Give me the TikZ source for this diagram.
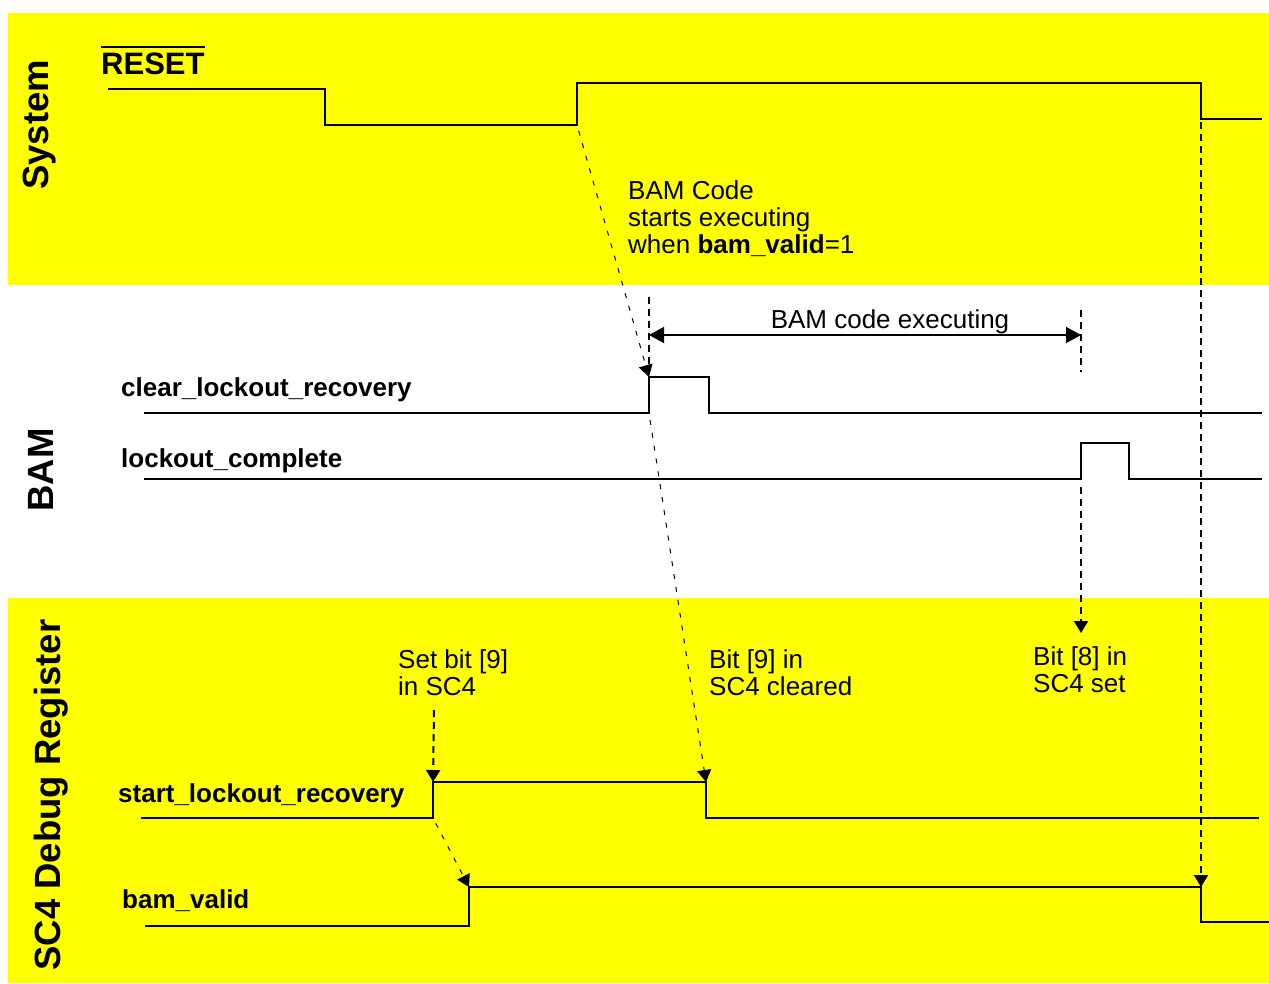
\documentclass[tikz,border=0pt]{standalone}
\usepackage{fontspec}
\setmainfont{Liberation Sans}
\usetikzlibrary{arrows.meta}
\definecolor{bandyellow}{RGB}{255,255,0}
\begin{document}
\begin{tikzpicture}[x=1pt,y=-1pt,
  sig/.style={line width=2pt, line join=miter},
  thind/.style={line width=1pt, dash pattern=on 5pt off 8pt, -{Triangle[length=12pt,width=14pt]}},
  vd/.style={line width=2pt, dash pattern=on 7pt off 5pt},
  tipd/.style={-{Triangle[length=12pt,width=14pt]}},
  lab/.style={font=\fontsize{26}{27}\selectfont\bfseries, anchor=base west, inner sep=0},
  note/.style={font=\fontsize{26}{27}\selectfont, anchor=north west, align=left, inner sep=0},
  grp/.style={font=\fontsize{36.5}{40}\selectfont\bfseries, rotate=90, anchor=base, inner sep=0}
]
\useasboundingbox (0,0) rectangle (1269,983);
% bands
\fill[bandyellow] (8,13) rectangle (1269,285);
\fill[bandyellow] (8,598) rectangle (1269,983);

% group labels
\node[grp] (gsys) at (48,125) {System};
\node[grp] (gbam) at (53,470) {BAM};
\node[grp] (gsc4) at (60,795) {SC4 Debug Register};

% RESET
\node[font=\fontsize{31}{34}\selectfont\bfseries, anchor=base west, inner sep=0] (reset) at (101,74) {RESET};
\draw[line width=2pt] ([yshift=5pt]reset.north west) -- ([yshift=5pt]reset.north east);
\coordinate (r0) at (108,89);
\coordinate (r1) at (325,89);
\coordinate (r2) at (325,125);
\coordinate (r3) at (577,125);
\coordinate (r4) at (577,83);
\coordinate (r5) at (1201,83);
\coordinate (r6) at (1201,119);
\coordinate (r7) at (1262,119);
\draw[sig] (r0) -- (r1) -- (r2) -- (r3) -- (r4) -- (r5) -- (r6) -- (r7);

% BAM signals
\node[lab] (lclr) at (121,396) {clear\_lockout\_recovery};
\coordinate (c0) at (144,413);
\coordinate (c1) at (649,413);
\coordinate (c2) at (649,377);
\coordinate (c3) at (709,377);
\coordinate (c4) at (709,413);
\coordinate (c5) at (1262,413);
\draw[sig] (c0) -- (c1) -- (c2) -- (c3) -- (c4) -- (c5);

\node[lab] (llc) at (121,467) {lockout\_complete};
\coordinate (l0) at (144,479);
\coordinate (l1) at (1081,479);
\coordinate (l2) at (1081,443);
\coordinate (l3) at (1129,443);
\coordinate (l4) at (1129,479);
\coordinate (l5) at (1262,479);
\draw[sig] (l0) -- (l1) -- (l2) -- (l3) -- (l4) -- (l5);

% SC4 signals
\node[lab] (lslr) at (118,802) {start\_lockout\_recovery};
\coordinate (s0) at (141,818);
\coordinate (s1) at (433,818);
\coordinate (s2) at (433,782);
\coordinate (s3) at (706,782);
\coordinate (s4) at (706,818);
\coordinate (s5) at (1259,818);
\draw[sig] (s0) -- (s1) -- (s2) -- (s3) -- (s4) -- (s5);

\node[lab] (lbv) at (122,908) {bam\_valid};
\coordinate (b0) at (145,926);
\coordinate (b1) at (469,926);
\coordinate (b2) at (469,887);
\coordinate (b3) at (1201,887);
\coordinate (b4) at (1201,922);
\coordinate (b5) at (1269,922);
\draw[sig] (b0) -- (b1) -- (b2) -- (b3) -- (b4) -- (b5);

% notes
\node[note] (nbam) at (628,180) {BAM Code\\starts executing\\when \textbf{bam\_valid}=1};
\node[note] (nset) at (398,649) {Set bit [9]\\in SC4};
\node[note] (nclr) at (709,649) {Bit [9] in\\SC4 cleared};
\node[note] (nb8) at (1033,646) {Bit [8] in\\SC4 set};
\node[font=\fontsize{26}{27}\selectfont, anchor=base, inner sep=0] (nexe) at (890,328) {BAM code executing};

% BAM code executing span
\coordinate (v1t) at (649,297);
\coordinate (v1b) at (649,366);
\coordinate (v2t) at (1081,310);
\coordinate (v2b) at (1081,372);
\draw[vd] (v1t) -- (v1b);
\draw[vd] (v2t) -- (v2b);
\coordinate (a1) at (649,335);
\coordinate (a2) at (1081,335);
\draw[line width=1.5pt, {Triangle[length=15pt,width=16pt]}-{Triangle[length=15pt,width=16pt]}] (a1) -- (a2);

% causal arrows
\draw[thind, shorten <=6pt] (r3) -- (c2);
\draw[thind, shorten <=7pt] (c1) -- (s3);
\draw[thind, shorten <=6pt] (s1) -- (b2);
\draw[vd, tipd, shorten <=3pt] (r6) -- (b3);
\coordinate (b8t) at (1081,633);
\draw[vd, tipd, shorten <=8pt] (l1) -- (b8t);
\coordinate (sbs) at (434,710);
\draw[vd, tipd] (sbs) -- (s2);
\end{tikzpicture}
\end{document}
